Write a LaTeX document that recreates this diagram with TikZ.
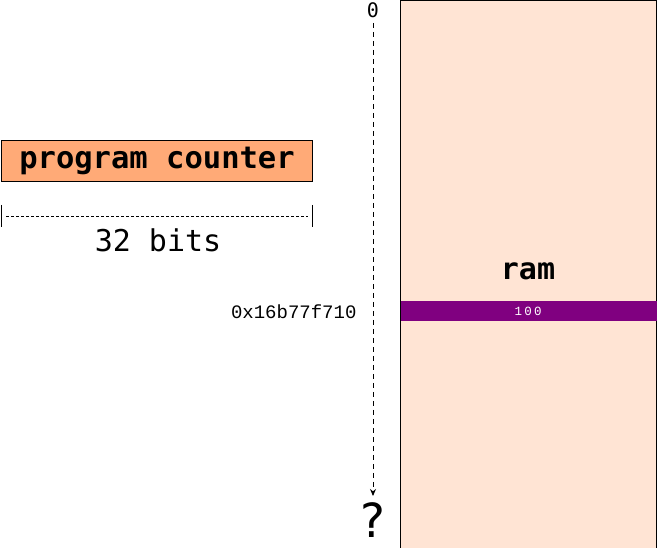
\documentclass[tikz,border=0pt]{standalone}
\usepackage{fontspec}
\setmonofont{DejaVu Sans Mono}
\newfontfamily\addrfont{Liberation Mono}
\newfontfamily\qfont{DejaVu Sans}
\usetikzlibrary{arrows.meta}
\definecolor{ramfill}{HTML}{FFE4D4}
\definecolor{pcfill}{HTML}{FFAA77}
\definecolor{cellfill}{HTML}{800080}
\begin{document}
\begin{tikzpicture}[x=1pt,y=-1pt,
  box/.style={draw=black,line width=1pt,inner sep=0pt},
  dimline/.style={draw=black,line width=0.5pt,dash pattern=on 3pt off 2pt},
  ptrline/.style={draw=black,line width=1pt,dash pattern=on 5pt off 4pt,-{Stealth[length=7pt,width=6pt]}}]
\useasboundingbox (0,0) rectangle (657,548);
% ram
\node[box,fill=ramfill,minimum width=256pt,minimum height=547pt,anchor=north west] (ram) at (400,0.5) {};
\node[box,draw=none,fill=cellfill,minimum width=256pt,minimum height=20pt,anchor=west] (cell) at (400.5,311) {};
\node[text=white,font={\addrfont\addfontfeature{LetterSpace=18}\fontsize{12.5}{14}\selectfont}] (val) at (528,311) {100};
\node[font=\ttfamily\bfseries\fontsize{30}{32}\selectfont] (ramlbl) at (528,271) {ram};
% program counter
\node[box,fill=pcfill,minimum width=311pt,minimum height=41pt,anchor=north west,font=\ttfamily\bfseries\fontsize{30.5}{32}\selectfont] (pc) at (1,140) {program counter};
\coordinate (l1) at (1,205); \coordinate (l2) at (1,227);
\coordinate (r1) at (312,205); \coordinate (r2) at (312,227);
\draw[line width=0.8pt] (l1) -- (l2);
\draw[line width=0.8pt] (r1) -- (r2);
\coordinate (dl) at (6,216); \coordinate (dr) at (308,216);
\draw[dimline] (dl) -- (dr);
\node[font=\ttfamily\fontsize{30}{32}\selectfont] (bits) at (158,240) {32 bits};
% address axis
\node[font=\ttfamily\fontsize{20}{22}\selectfont] (zero) at (373,10) {0};
\node[font=\qfont\fontsize{47}{52}\selectfont] (q) at (373,520) {?};
\coordinate (top) at (373,23);
\coordinate (bot) at (373,496);
\draw[ptrline] (top) -- (bot);
\node[font=\addrfont\fontsize{19}{21}\selectfont,anchor=east] (addr) at (360,312) {0x16b77f710};
\end{tikzpicture}
\end{document}
